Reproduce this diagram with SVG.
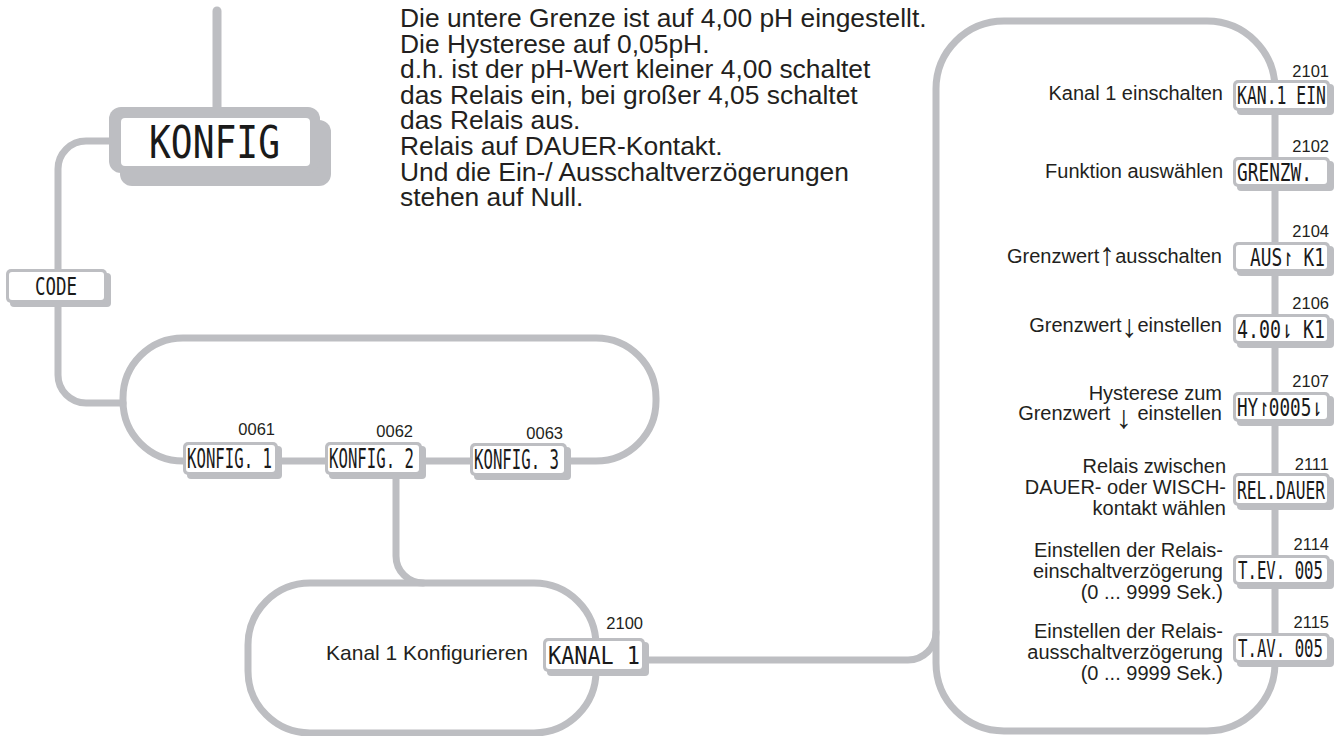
<svg xmlns="http://www.w3.org/2000/svg" width="1340" height="736" viewBox="0 0 1340 736">
<style>
.ln{fill:none;stroke:#bdbec2;stroke-width:7;stroke-linecap:round}
.g{fill:#bdbec2}
.w{fill:#ffffff}
.lcd{font-family:"DejaVu Sans Mono",monospace;fill:#1a1a1a}
.t{font-family:"Liberation Sans",Arial,sans-serif;fill:#231f20}
.lb{font-family:"Liberation Sans",Arial,sans-serif;fill:#231f20;font-size:16.5px;text-anchor:end}
.rl{font-size:20px;text-anchor:end}
.ar{font-size:32px;font-weight:bold}
</style>
<rect width="1340" height="736" fill="#ffffff"/>
<g id="connectors">
<line class="ln" x1="217" y1="11" x2="217" y2="110" style="stroke-width:9"/>
<path class="ln" d="M112,141 H86 A28,28 0 0 0 58,169 V375 A28,28 0 0 0 86,403 H123"/>
<rect class="ln" x="123" y="338" width="533" height="123" rx="60"/>
<path class="ln" d="M396,478 V556 A27,27 0 0 0 423,583"/>
<rect class="ln" x="248" y="583" width="348" height="150" rx="62"/>
<path class="ln" d="M645,660 H908 A28,28 0 0 0 936,632"/>
<rect class="ln" x="936" y="21" width="339" height="710" rx="68"/>
</g>
<g id="note">
<text class="t" font-size="26.4">
<tspan x="400" y="27">Die untere Grenze ist auf 4,00 pH eingestellt.</tspan>
<tspan x="400" y="52.6">Die Hysterese auf 0,05pH.</tspan>
<tspan x="400" y="78.2">d.h. ist der pH-Wert kleiner 4,00 schaltet</tspan>
<tspan x="400" y="103.8">das Relais ein, bei großer 4,05 schaltet</tspan>
<tspan x="400" y="129.4">das Relais aus.</tspan>
<tspan x="400" y="155">Relais auf DAUER-Kontakt.</tspan>
<tspan x="400" y="180.6">Und die Ein-/ Ausschaltverzögerungen</tspan>
<tspan x="400" y="206.2">stehen auf Null.</tspan>
</text>
</g>
<g id="konfig">
<rect class="g" x="120" y="120" width="211" height="66" rx="12"/>
<rect class="g" x="109" y="107" width="211" height="66" rx="12"/>
<rect class="w" x="121" y="118" width="189" height="48" rx="4"/>
<text class="lcd" x="149" y="158" font-size="45" textLength="131" lengthAdjust="spacingAndGlyphs">KONFIG</text>
</g>
<g id="code">
<rect class="g" x="10" y="273" width="101" height="34" rx="4"/>
<rect class="g" x="6" y="269" width="101" height="34" rx="5"/>
<rect class="w" x="9" y="272" width="95" height="28" rx="3"/>
<text class="lcd" x="35" y="295" font-size="25" textLength="42" lengthAdjust="spacingAndGlyphs">CODE</text>
</g>
<g id="konfig1">
<rect class="g" x="187" y="446" width="95" height="33" rx="4"/>
<rect class="g" x="183" y="442" width="95" height="33" rx="5"/>
<rect class="w" x="186" y="445" width="89" height="27" rx="3"/>
<text class="lcd" x="187" y="468" font-size="27" textLength="85" lengthAdjust="spacingAndGlyphs">KONFIG. 1</text>
<text class="lb" x="275" y="435">0061</text>
</g>
<g id="konfig2">
<rect class="g" x="329" y="446" width="97" height="33" rx="4"/>
<rect class="g" x="325" y="442" width="97" height="33" rx="5"/>
<rect class="w" x="328" y="445" width="91" height="27" rx="3"/>
<text class="lcd" x="329" y="468" font-size="27" textLength="85" lengthAdjust="spacingAndGlyphs">KONFIG. 2</text>
<text class="lb" x="413" y="437">0062</text>
</g>
<g id="konfig3">
<rect class="g" x="474" y="447" width="97" height="33" rx="4"/>
<rect class="g" x="470" y="443" width="97" height="33" rx="5"/>
<rect class="w" x="473" y="446" width="91" height="27" rx="3"/>
<text class="lcd" x="474" y="469" font-size="27" textLength="85" lengthAdjust="spacingAndGlyphs">KONFIG. 3</text>
<text class="lb" x="563" y="439">0063</text>
</g>
<g id="kanal1">
<rect class="g" x="547" y="642" width="102" height="34" rx="4"/>
<rect class="g" x="543" y="638" width="102" height="34" rx="5"/>
<rect class="w" x="546" y="641" width="96" height="28" rx="3"/>
<text class="lcd" x="548" y="664" font-size="25" textLength="92" lengthAdjust="spacingAndGlyphs">KANAL   1</text>
<text class="lb" x="643" y="629">2100</text>
<text class="t" x="528" y="660" font-size="21" text-anchor="end">Kanal 1 Konfigurieren</text>
</g>
<g id="p2101">
<rect class="g" x="1237" y="84" width="97" height="31" rx="4"/>
<rect class="g" x="1233" y="80" width="97" height="31" rx="5"/>
<rect class="w" x="1236" y="83" width="91" height="25" rx="3"/>
<text class="lcd" x="1237" y="104" font-size="24" textLength="89" lengthAdjust="spacingAndGlyphs">KAN.1 EIN</text>
<text class="lb" x="1329" y="77">2101</text>
<text class="t rl" x="1223" y="100">Kanal 1 einschalten</text>
</g>
<g id="p2102">
<rect class="g" x="1237" y="161" width="97" height="30" rx="4"/>
<rect class="g" x="1233" y="157" width="97" height="30" rx="5"/>
<rect class="w" x="1236" y="160" width="91" height="24" rx="3"/>
<text class="lcd" x="1237" y="181" font-size="25" textLength="75" lengthAdjust="spacingAndGlyphs">GRENZW.</text>
<text class="lb" x="1329" y="152">2102</text>
<text class="t rl" x="1223" y="178">Funktion auswählen</text>
</g>
<g id="p2104">
<rect class="g" x="1237" y="246" width="97" height="30" rx="4"/>
<rect class="g" x="1233" y="242" width="97" height="30" rx="5"/>
<rect class="w" x="1236" y="245" width="91" height="24" rx="3"/>
<text class="lcd" x="1250" y="266" font-size="25" textLength="75" lengthAdjust="spacingAndGlyphs">AUS↾ K1</text>
<text class="lb" x="1329" y="237">2104</text>
<text class="t rl" x="1222" y="263">Grenzwert<tspan class="ar" dy="2">↑</tspan><tspan dy="-2">ausschalten</tspan></text>
</g>
<g id="p2106">
<rect class="g" x="1237" y="318" width="97" height="30" rx="4"/>
<rect class="g" x="1233" y="314" width="97" height="30" rx="5"/>
<rect class="w" x="1236" y="317" width="91" height="24" rx="3"/>
<text class="lcd" x="1237" y="338" font-size="25" textLength="88" lengthAdjust="spacingAndGlyphs">4.00⇂ K1</text>
<text class="lb" x="1329" y="309">2106</text>
<text class="t rl" x="1222" y="332">Grenzwert<tspan class="ar" dy="5">↓</tspan><tspan dy="-5">einstellen</tspan></text>
</g>
<g id="p2107">
<rect class="g" x="1237" y="396" width="97" height="30" rx="4"/>
<rect class="g" x="1233" y="392" width="97" height="30" rx="5"/>
<rect class="w" x="1236" y="395" width="91" height="24" rx="3"/>
<text class="lcd" x="1237" y="416" font-size="25" textLength="85" lengthAdjust="spacingAndGlyphs">HY↾0005⇂</text>
<text class="lb" x="1329" y="387">2107</text>
<text class="t rl" x="1222" y="400">Hysterese zum</text>
<text class="t rl" x="1222" y="420">Grenzwert <tspan class="ar" dy="8">↓</tspan><tspan dy="-8"> einstellen</tspan></text>
</g>
<g id="p2111">
<rect class="g" x="1237" y="477" width="97" height="33" rx="4"/>
<rect class="g" x="1233" y="473" width="97" height="33" rx="5"/>
<rect class="w" x="1236" y="476" width="91" height="27" rx="3"/>
<text class="lcd" x="1237" y="499" font-size="25" textLength="88" lengthAdjust="spacingAndGlyphs">REL.DAUER</text>
<text class="lb" x="1329" y="470">2111</text>
<text class="t rl" x="1226" y="473">Relais zwischen</text>
<text class="t rl" x="1226" y="494">DAUER- oder WISCH-</text>
<text class="t rl" x="1226" y="515">kontakt wählen</text>
</g>
<g id="p2114">
<rect class="g" x="1237" y="559" width="97" height="30" rx="4"/>
<rect class="g" x="1233" y="555" width="97" height="30" rx="5"/>
<rect class="w" x="1236" y="558" width="91" height="24" rx="3"/>
<text class="lcd" x="1238" y="579" font-size="25" textLength="85" lengthAdjust="spacingAndGlyphs">T.EV.  005</text>
<text class="lb" x="1329" y="550">2114</text>
<text class="t rl" x="1223" y="557">Einstellen der Relais-</text>
<text class="t rl" x="1223" y="578">einschaltverzögerung</text>
<text class="t rl" x="1223" y="599">(0 ... 9999 Sek.)</text>
</g>
<g id="p2115">
<rect class="g" x="1237" y="637" width="97" height="30" rx="4"/>
<rect class="g" x="1233" y="633" width="97" height="30" rx="5"/>
<rect class="w" x="1236" y="636" width="91" height="24" rx="3"/>
<text class="lcd" x="1238" y="657" font-size="25" textLength="85" lengthAdjust="spacingAndGlyphs">T.AV.  005</text>
<text class="lb" x="1329" y="628">2115</text>
<text class="t rl" x="1223" y="638">Einstellen der Relais-</text>
<text class="t rl" x="1223" y="659">ausschaltverzögerung</text>
<text class="t rl" x="1223" y="680">(0 ... 9999 Sek.)</text>
</g>
</svg>
